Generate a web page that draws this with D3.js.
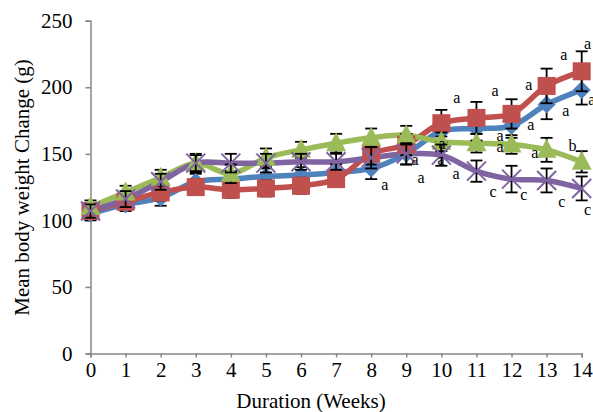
<!DOCTYPE html>
<html>
<head>
<meta charset="utf-8">
<script src="https://cdn.jsdelivr.net/npm/d3@7"></script>
<style>
  body { margin: 0; background: #fff; }
  text { font-family: "Liberation Serif", "Times New Roman", serif; fill: #000; }
</style>
</head>
<body>
<script>
// data
const weeks = [0, 1, 2, 3, 4, 5, 6, 7, 8, 9, 10, 11, 12, 13, 14];
const yTicks = [0, 50, 100, 150, 200, 250];

const blueVals   = [105, 112, 117, 129, 131, 133, 134, 136, 139, 150, 167, 169, 171, 187, 198];
const redVals    = [107, 114, 121, 125, 123, 124, 126, 131, 150, 157, 173, 177, 180, 201, 212];
const greenVals  = [110, 121, 132, 143, 135, 147, 153, 158, 162, 164, 159, 158, 157, 153, 144];
const purpleVals = [107, 116, 129, 143, 143, 143, 144, 144, 147, 150, 149, 137, 131, 130, 124];

const blueErr   = [5, 5, 6, 6, 6, 6, 6, 6, 8, 8, 8, 9, 9, 11, 11];
const redErr    = [5, 5, 6, 6, 6, 6, 6, 6, 8, 8, 10, 12, 11, 13, 15];
const greenErr  = [5, 5, 6, 7, 7, 7, 6, 7, 7, 7, 7, 7, 7, 9, 8];
const purpleErr = [5, 6, 6, 6, 7, 7, 6, 6, 8, 8, 8, 8, 10, 9, 9];

// significance letters, anchored in chart units (week, g)
const annoText  = ["a", "a", "a", "a", "a", "a", "a", "a", "a", "a", "a",
                   "a", "a", "b", "a", "a", "a", "a", "c", "c", "c", "c"];
const annoWeek  = [14.17, 13.49, 12.49, 11.53, 10.44, 14.29, 13.55, 12.55, 11.67, 10.02, 11.67,
                   9.99, 12.66, 13.74, 9.25, 10.42, 9.42, 8.39, 11.47, 12.35, 13.43, 14.17];
const annoValue = [232.6, 224.3, 201.7, 197.2, 191.9, 190.4, 182.1, 171.6, 163.3, 157.3, 154.9,
                   145.2, 150.5, 155.7, 145.2, 134.6, 131.6, 126.3, 121.0, 118.8, 113.5, 107.5];

const series = [
  { vals: blueVals,   err: blueErr,   color: "#4F81BD", marker: "diamond" },
  { vals: redVals,    err: redErr,    color: "#C0504D", marker: "square" },
  { vals: greenVals,  err: greenErr,  color: "#9BBB59", marker: "triangle" },
  { vals: purpleVals, err: purpleErr, color: "#8064A2", marker: "cross" }
];

const W = 593, H = 412;
const margin = { top: 20.7, right: 11.3, bottom: 58.5, left: 90.5 };

const svg = d3.select("body").append("svg")
  .attr("width", W).attr("height", H);

const x = d3.scaleLinear().domain([0, 14]).range([margin.left, W - margin.right]);
const y = d3.scaleLinear().domain([0, 250]).range([H - margin.bottom, margin.top]);

// axes
const yAxis = svg.append("g")
  .attr("transform", "translate(" + margin.left + ",0)")
  .call(d3.axisLeft(y).tickValues(yTicks).tickSize(5).tickPadding(13));
const xAxis = svg.append("g")
  .attr("transform", "translate(0," + (H - margin.bottom) + ")")
  .call(d3.axisBottom(x).tickValues(weeks).tickSize(4).tickPadding(5));

[xAxis, yAxis].forEach(function(g) {
  g.select(".domain").attr("stroke", "#868686").attr("stroke-width", 1.5);
  g.selectAll(".tick line").attr("stroke", "#868686").attr("stroke-width", 1.5);
  g.selectAll("text").style("font-family", "Liberation Serif").style("font-size", "21px").attr("fill", "#000");
});

svg.append("text")
  .attr("x", 311)
  .attr("y", 408)
  .attr("text-anchor", "middle")
  .style("font-size", "21px")
  .text("Duration (Weeks)");

svg.append("text")
  .attr("transform", "translate(29,187.5) rotate(-90)")
  .attr("text-anchor", "middle")
  .style("font-size", "21px")
  .text("Mean body weight Change (g)");

// lines
const line = d3.line()
  .x(function(d, i) { return x(weeks[i]); })
  .y(function(d) { return y(d); })
  .curve(d3.curveCatmullRom.alpha(0.5));

series.forEach(function(s) {
  svg.append("path")
    .datum(s.vals)
    .attr("fill", "none")
    .attr("stroke", s.color)
    .attr("stroke-width", 5.5)
    .attr("stroke-linejoin", "round")
    .attr("d", line);
});

// markers
function drawMarker(g, s, cx, cy) {
  if (s.marker === "diamond") {
    g.append("path")
      .attr("d", "M" + cx + "," + (cy - 9) + "L" + (cx + 9) + "," + cy + "L" + cx + "," + (cy + 9) + "L" + (cx - 9) + "," + cy + "Z")
      .attr("fill", s.color);
  } else if (s.marker === "square") {
    g.append("rect")
      .attr("x", cx - 9).attr("y", cy - 9).attr("width", 18).attr("height", 18)
      .attr("fill", s.color);
  } else if (s.marker === "triangle") {
    g.append("path")
      .attr("d", "M" + cx + "," + (cy - 11) + "L" + (cx + 10) + "," + (cy + 8) + "L" + (cx - 10) + "," + (cy + 8) + "Z")
      .attr("fill", s.color);
  } else {
    g.append("path")
      .attr("d", "M" + (cx - 9.5) + "," + (cy - 9.5) + "L" + (cx + 9.5) + "," + (cy + 9.5) + "M" + (cx + 9.5) + "," + (cy - 9.5) + "L" + (cx - 9.5) + "," + (cy + 9.5))
      .attr("stroke", s.color).attr("stroke-width", 2).attr("fill", "none");
  }
}

series.forEach(function(s) {
  const g = svg.append("g");
  // error bars
  s.vals.forEach(function(v, i) {
    const cx = x(weeks[i]);
    const top = y(v + s.err[i]), bot = y(v - s.err[i]);
    g.append("line").attr("x1", cx).attr("x2", cx).attr("y1", top).attr("y2", bot)
      .attr("stroke", "#000").attr("stroke-width", 1.8);
    [top, bot].forEach(function(yy) {
      g.append("line").attr("x1", cx - 6).attr("x2", cx + 6).attr("y1", yy).attr("y2", yy)
        .attr("stroke", "#000").attr("stroke-width", 1.8);
    });
  });
  s.vals.forEach(function(v, i) {
    drawMarker(g, s, x(weeks[i]), y(v));
  });
});

// letters
svg.append("g").selectAll("text")
  .data(annoText)
  .join("text")
  .attr("x", function(d, i) { return x(annoWeek[i]); })
  .attr("y", function(d, i) { return y(annoValue[i]); })
  .attr("dy", "0.3em")
  .attr("text-anchor", "middle")
  .style("font-size", "16px")
  .text(function(d) { return d; });
</script>
</body>
</html>
